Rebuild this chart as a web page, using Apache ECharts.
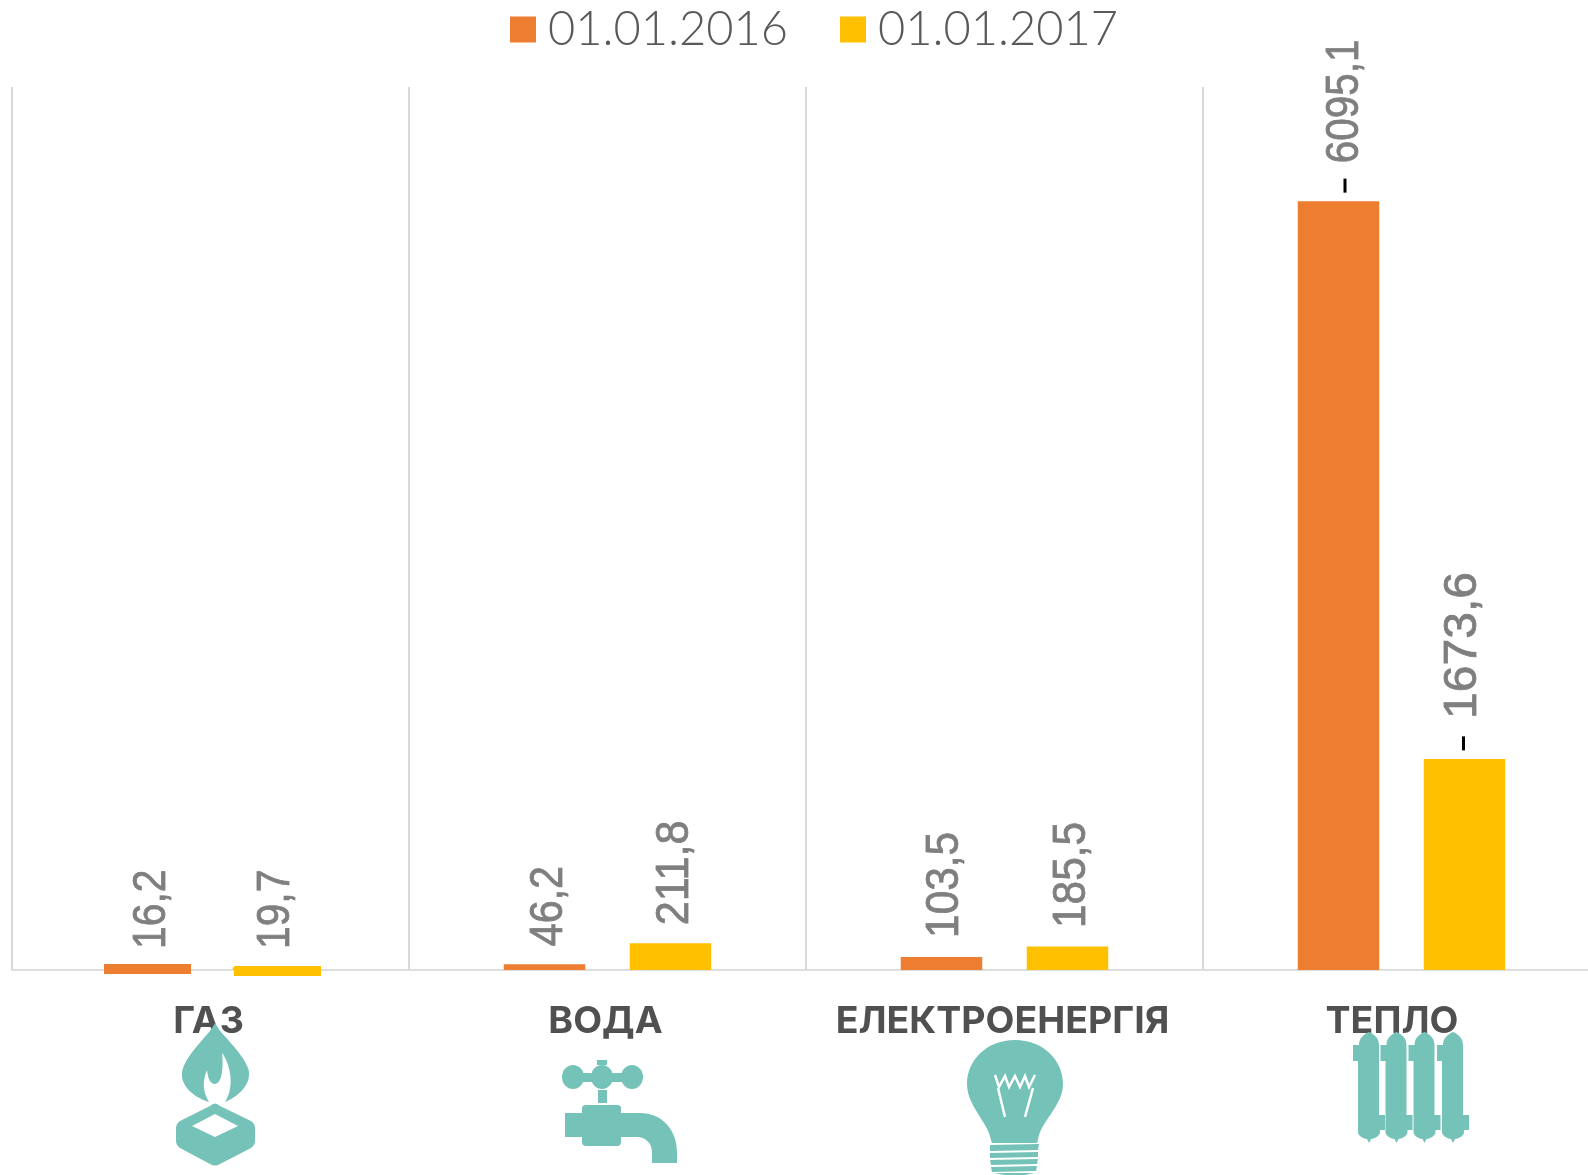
<!DOCTYPE html>
<html>
<head>
<meta charset="utf-8">
<style>html,body{margin:0;padding:0;background:#fff;overflow:hidden}#c{width:1588px;height:1175px}</style>
<script src="https://cdn.jsdelivr.net/npm/echarts@6/dist/echarts.min.js"></script>
</head>
<body>
<div id="c"></div>
<script>
const categories = ['ГАЗ', 'ВОДА', 'ЕЛЕКТРОЕНЕРГІЯ', 'ТЕПЛО'];
const seriesNames = ['01.01.2016', '01.01.2017'];
const values2016 = [16.2, 46.2, 103.5, 6095.1];
const values2017 = [19.7, 211.8, 185.5, 1673.6];

const ORANGE = '#ED7D31', YELLOW = '#FFC000', TEAL = '#75C2B8', GREY = '#7F7F7F';

// label placement relative to each bar: [distance above bar, horizontal nudge, text stretch]
const place2016 = [[19, 5, 1.02], [18, 4.5, 1.03], [19, 3.5, 1.06], [38, 7, 1.01]];
const place2017 = [[18.5, 2.5, 1.02], [18, 4.5, 1.08], [18.6, 4.5, 1.06], [40, -1.5, 1.2]];

const fmt = v => String(v).replace('.', ',');

// Rotated value labels; the source text is stretched across its height.
function valueLabel(params, api) {
  const cat = api.value(0), val = api.value(1), s = api.value(2);
  const p = api.coord([cat, val]);
  const pl = (s === 0 ? place2016 : place2017)[cat];
  return {
    type: 'text',
    x: p[0] + (s === 0 ? -63 : 63) + pl[1],
    y: p[1] - pl[0],
    rotation: Math.PI / 2,
    scaleX: pl[2],
    scaleY: 1.15,
    style: {
      text: fmt(val), x: 0, y: 0, align: 'left', verticalAlign: 'middle',
      fontFamily: '"Liberation Sans",Arial,sans-serif', fontSize: 40, fill: GREY,
      stroke: GREY, lineWidth: 0.7
    }
  };
}

// The gas bars sit on the axis in the source: slightly larger and shifted below it.
function gasOverlay(params, api) {
  const p = api.coord([api.value(0), api.value(1)]);
  const s = params.dataIndex === 0 ? { dx: -106.5, dy: -4, c: ORANGE } : { dx: 23.5, dy: -1.5, c: YELLOW };
  return { type: 'rect', shape: { x: p[0] + s.dx, y: p[1] + s.dy, width: 87, height: 10 }, style: { fill: s.c } };
}

// Small black leader marks above the heat bars.
function leader(params, api) {
  const p = api.coord([api.value(0), api.value(1)]);
  const dx = params.dataIndex === 0 ? -56.5 : 62;
  return { type: 'rect', shape: { x: p[0] + dx - 1.5, y: p[1] - 22.5, width: 3, height: 14 }, style: { fill: '#000' } };
}

const radiatorColumn = c => `M${c},1032 C${c+5},1034 ${c+10},1038 ${c+10},1045 L${c+10},1115 L${c+16},1115 L${c+16},1130 L${c+11},1130 L${c+11},1132 C${c+11},1136 ${c+5},1139 ${c+2},1139 L${c},1143 L${c-2},1139 C${c-5},1139 ${c-11},1136 ${c-11},1132 L${c-11},1061 L${c-16},1061 L${c-16},1045 L${c-10},1045 C${c-10},1038 ${c-5},1034 ${c},1032 Z`;

const tealShapes = [
  // flame + burner
  'M215,1023 C210,1034 190,1050 183,1068 C178,1082 190,1096 209,1102 C203,1092 202,1082 207,1070 C208,1080 211,1084 215,1084 C221,1084 224,1070 222,1053 C229,1062 236,1085 225,1102 C240,1096 253,1082 248,1068 C241,1050 220,1034 215,1023 Z',
  'M210,1106 Q215,1101 220,1106 L251,1121 Q255,1124 255,1128 L255,1141 Q255,1145 251,1148 L220,1164 Q215,1167 210,1164 L180,1148 Q176,1145 176,1141 L176,1128 Q176,1124 180,1121 Z',
  // tap
  'M562,1077 a11,12 0 1,0 22,0 a11,12 0 1,0 -22,0 Z',
  'M591,1077 a11,12 0 1,0 22,0 a11,12 0 1,0 -22,0 Z',
  'M621,1077 a11,12 0 1,0 22,0 a11,12 0 1,0 -22,0 Z',
  'M573,1073 L632,1073 L632,1082 L573,1082 Z',
  'M597,1060 L607,1060 L607,1065 L597,1065 Z',
  'M598,1090 L607,1090 L607,1103 L598,1103 Z',
  'M582,1108 Q582,1105 586,1105 L617,1105 Q621,1105 621,1108 L621,1113 L640,1113 C662,1113 677,1130 677,1152 L677,1163 L652,1163 L652,1152 C652,1143 645,1137 637,1137 L621,1137 L621,1142 Q621,1146 617,1146 L586,1146 Q582,1146 582,1142 L582,1137 L565,1137 L565,1113 L582,1113 Z',
  // bulb
  'M1015,1040 C1043,1040 1063,1060 1063,1084 C1063,1106 1040,1122 1038,1140 L1037,1143 L992,1143 L991,1140 C988,1122 967,1106 967,1084 C967,1060 987,1040 1015,1040 Z',
  'M990,1145 L1039,1144 L1038,1150 L990,1151 Z',
  'M990,1153 L1038,1152 L1038,1157 L990,1158 Z',
  'M990,1160 L1038,1159 L1037,1164 L991,1165 Z',
  'M991,1167 L1037,1166 L1036,1171 L992,1172 Z',
  'M994,1173 L1034,1173 L1025,1175 L1005,1175 Z',
  // radiator
  radiatorColumn(1369), radiatorColumn(1396.5), radiatorColumn(1424.5), radiatorColumn(1453)
];
const whiteFills = ['M215,1114 L238,1126 L215,1137 L192,1126 Z'];
const whiteStrokes = [
  'M995,1075 L999,1087 L1005,1076 L1009,1087 L1015,1076 L1020,1087 L1025,1076 L1029,1087 L1035,1075',
  'M998,1088 L1005,1117',
  'M1033,1088 L1025,1117'
];

function drawIcons() {
  return {
    type: 'group',
    children: [
      ...tealShapes.map(d => ({ type: 'path', shape: { pathData: d }, style: { fill: TEAL } })),
      ...whiteFills.map(d => ({ type: 'path', shape: { pathData: d }, style: { fill: '#fff' } })),
      ...whiteStrokes.map(d => ({ type: 'path', shape: { pathData: d }, style: { fill: 'none', stroke: '#fff', lineWidth: 2.5 } }))
    ]
  };
}

const catFont = { fontFamily: 'Inter,"Noto Sans",sans-serif', fontWeight: 'bold', fontSize: 37.5, color: '#505050' };

const chart = echarts.init(document.getElementById('c'), null, { renderer: 'canvas' });
chart.setOption({
  animation: false,
  backgroundColor: '#fff',
  legend: {
    data: seriesNames,
    left: 510, top: 6, padding: 0,
    itemWidth: 26, itemHeight: 26, itemGap: 52,
    icon: 'rect',
    selectedMode: false,
    textStyle: { fontFamily: 'Lato,sans-serif', fontWeight: 300, fontSize: 47, color: '#595959', padding: [0, 0, 0, 7] }
  },
  grid: { left: 12, top: 87, right: -12, height: 883, containLabel: false, outerBoundsMode: 'none' },
  xAxis: {
    type: 'category',
    data: categories,
    axisLine: { lineStyle: { color: '#DEDEDE', width: 2 } },
    axisTick: { show: false },
    splitLine: { show: true, lineStyle: { color: '#D9D9D9', width: 2 } },
    axisLabel: {
      interval: 0, margin: 33, ...catFont,
      formatter: v => (v === 'ТЕПЛО' ? `{t|${v}}` : `{a|${v}}`),
      rich: { a: { ...catFont, padding: [0, 4, 0, 0] }, t: { ...catFont, padding: [0, 19, 0, 0] } }
    }
  },
  yAxis: { type: 'value', min: 0, max: 7000, show: false, splitLine: { show: false } },
  series: [
    { name: seriesNames[0], type: 'bar', barWidth: 81.5, barGap: '54.6%', itemStyle: { color: ORANGE }, data: values2016 },
    { name: seriesNames[1], type: 'bar', barWidth: 81.5, barGap: '54.6%', itemStyle: { color: YELLOW }, data: values2017 },
    { name: 'gas', type: 'custom', coordinateSystem: 'cartesian2d', silent: true, z: 3, encode: { x: 0, y: 1 }, renderItem: gasOverlay, data: [[0, values2016[0]], [0, values2017[0]]] },
    { name: 'leader', type: 'custom', coordinateSystem: 'cartesian2d', silent: true, z: 3, encode: { x: 0, y: 1 }, renderItem: leader, data: [[3, values2016[3]], [3, values2017[3]]] },
    { name: 'labels', type: 'custom', coordinateSystem: 'cartesian2d', silent: true, z: 4, clip: false, encode: { x: 0, y: 1 }, renderItem: valueLabel,
      data: [...values2016.map((v, i) => [i, v, 0]), ...values2017.map((v, i) => [i, v, 1])] },
    { name: 'icons', type: 'custom', coordinateSystem: 'none', silent: true, z: 10, renderItem: drawIcons, data: [[0]] }
  ]
});
</script>
</body>
</html>
